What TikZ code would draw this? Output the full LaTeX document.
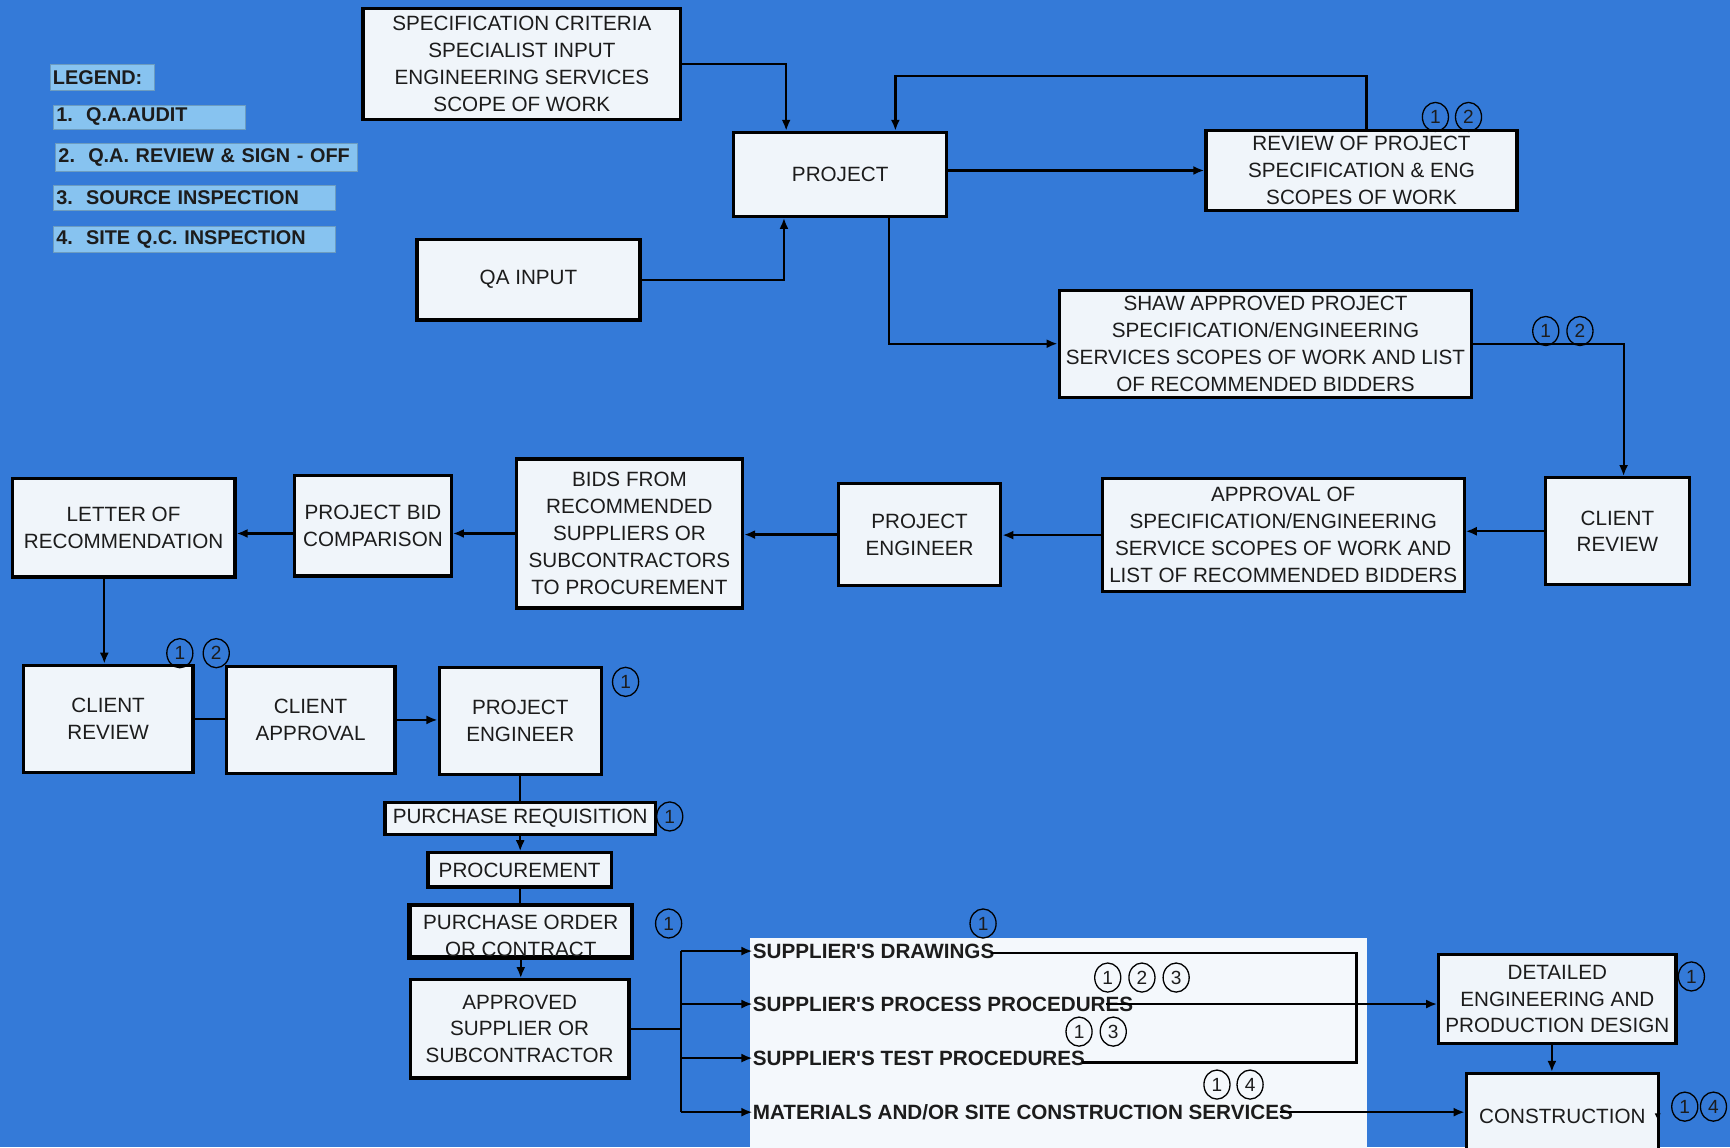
\documentclass[tikz,border=0pt]{standalone}
\usepackage{fontspec}
\setmainfont{Liberation Sans}
\usetikzlibrary{arrows.meta,calc,shapes.geometric}
\definecolor{bg}{RGB}{52,122,216}
\definecolor{boxfill}{RGB}{240,245,250}
\definecolor{lgfill}{RGB}{135,195,240}
\definecolor{panelfill}{RGB}{244,248,252}
\definecolor{txt}{RGB}{28,28,28}
\newcommand\mybox[6]{%
  \pgfmathsetmacro\mbw{(#4-#2)*0.55}%
  \pgfmathsetmacro\mbh{(#5-#3)*0.55}%
  \node[boxst,minimum width=\mbw pt,minimum height=\mbh pt] (#1) at ({(#2+#4)/2},{(#3+#5)/2}) {#6};}
\newcommand\mylg[6]{%
  \pgfmathsetmacro\mbw{(#4-#2)*0.55-3}%
  \pgfmathsetmacro\mbh{(#5-#3)*0.55}%
  \node[lgst,text width=\mbw pt,minimum height=\mbh pt,anchor=west] (#1) at (#2,{(#3+#5)/2}) {\mbox{#6}};}
\newcommand\mycn[4]{\node[cnst] (#1) at (#2,#3) {#4};}
\begin{document}
\begin{tikzpicture}[x=0.55pt,y=-0.55pt,
  boxst/.style={draw=black,line width=1.6pt,fill=boxfill,inner sep=0pt,align=center,text=txt,font=\fontsize{10.3}{13.4}\selectfont},
  txtst/.style={inner sep=0pt,align=center,text=txt,font=\fontsize{10.3}{13.4}\selectfont},
  lgst/.style={fill=lgfill,draw=lgfill!80!black,line width=0.3pt,inner xsep=1.5pt,inner ysep=0pt,align=left,text=txt,font=\bfseries\fontsize{9.9}{12}\selectfont},
  sst/.style={inner sep=0pt,text=txt,font=\bfseries\fontsize{10.3}{12}\selectfont},
  cnst/.style={draw=black,ellipse,line width=0.65pt,minimum width=13pt,minimum height=14.5pt,inner sep=0pt,text=txt,font=\fontsize{9.5}{9.5}\selectfont},
  ln/.style={draw=black,line width=1.1pt},
  arr/.style={draw=black,line width=1.1pt,-{Latex[length=5.5pt,width=4.5pt]}}]
\useasboundingbox (0,0) rectangle (1568,1040);
\fill[bg] (0,0) rectangle (1568,1040);
% legend
\mylg{lg0}{45}{58}{140}{82}{LEGEND:}
\mylg{lg1}{48}{95}{222}{117}{1.\ \ Q.A.AUDIT}
\mylg{lg2}{50}{130}{324}{155}{2.\ \ Q.A. REVIEW \& SIGN - OFF}
\mylg{lg3}{48}{168}{304}{191}{3.\ \ SOURCE INSPECTION}
\mylg{lg4}{48}{205}{304}{229}{4.\ \ SITE Q.C. INSPECTION}
% panel
\pgfmathsetmacro\mbw{(1239-680)*0.55}
\pgfmathsetmacro\mbh{(1045-850)*0.55}
\node[fill=panelfill,minimum width=\mbw pt,minimum height=\mbh pt,inner sep=0pt] (panel) at ({(680+1239)/2},{(850+1045)/2}) {};
% boxes
\mybox{spec}{329}{8}{617}{108}{SPECIFICATION CRITERIA\\SPECIALIST INPUT\\ENGINEERING SERVICES\\SCOPE OF WORK}
\mybox{proj}{665}{120}{858}{196}{PROJECT}
\mybox{rev}{1093}{118}{1375}{191}{REVIEW OF PROJECT\\SPECIFICATION \& ENG\\SCOPES OF WORK}
\mybox{qa}{378}{217}{580}{290}{QA INPUT}
\mybox{shaw}{960}{263}{1334}{360}{SHAW APPROVED PROJECT\\SPECIFICATION/ENGINEERING\\SERVICES SCOPES OF WORK AND LIST\\OF RECOMMENDED BIDDERS}
\mybox{crr}{1401}{433}{1531}{530}{CLIENT\\REVIEW}
\mybox{appr}{999}{434}{1327}{536}{APPROVAL OF\\SPECIFICATION/ENGINEERING\\SERVICE SCOPES OF WORK AND\\LIST OF RECOMMENDED BIDDERS}
\mybox{pea}{760}{438}{907}{531}{PROJECT\\ENGINEER}
\mybox{bids}{468}{416}{673}{551}{BIDS FROM\\RECOMMENDED\\SUPPLIERS OR\\SUBCONTRACTORS\\TO PROCUREMENT}
\mybox{bidc}{267}{431}{409}{522}{PROJECT BID\\COMPARISON}
\mybox{letr}{11}{434}{213}{523}{LETTER OF\\RECOMMENDATION}
\mybox{crl}{21}{603}{175}{700}{CLIENT\\REVIEW}
\mybox{cap}{205}{604}{358}{701}{CLIENT\\APPROVAL}
\mybox{peb}{398}{605}{545}{702}{PROJECT\\ENGINEER}
\mybox{pr}{349}{727}{594}{756}{PURCHASE REQUISITION}
\mybox{proc}{388}{773}{554}{804}{PROCUREMENT}
\mybox{po}{372}{821}{572}{867}{}
\begin{scope}
\clip (po.south west) rectangle (po.north east);
\node[txtst] (potxt) at (472,848) {PURCHASE ORDER\\OR CONTRACT};
\end{scope}
\draw[line width=1.6pt] (po.south west) rectangle (po.north east);
\mybox{aps}{372}{888}{570}{977}{APPROVED\\SUPPLIER OR\\SUBCONTRACTOR}
\mybox{det}{1304}{865}{1519}{946}{DETAILED\\ENGINEERING AND\\PRODUCTION DESIGN}
\mybox{con}{1329}{973}{1503}{1050}{CONSTRUCTION}
% supplier items
\node[sst,anchor=west] (s1) at (682,862) {SUPPLIER\textquotesingle S DRAWINGS};
\node[sst,anchor=west] (s2) at (682,910) {SUPPLIER\textquotesingle S PROCESS PROCEDURES};
\node[sst,anchor=west] (s3) at (682,959) {SUPPLIER\textquotesingle S TEST PROCEDURES};
\node[sst,anchor=west] (s4) at (682,1008) {MATERIALS AND/OR SITE CONSTRUCTION SERVICES};
% connectors
\draw[arr] (spec.east) -| ($(proj.north west)+(49,0)$);
\draw[arr] (qa.east) -| ($(proj.south west)+(47,0)$);
\draw[arr] (proj.east |- rev.west) -- (rev.west);
\draw[arr] ($(rev.north west)+(147,0)$) -- ++(0,-48) -| ($(proj.north west)+(148,0)$);
\draw[arr] ($(proj.south west)+(142,0)$) |- (shaw.west);
\draw[arr] (shaw.east) -| ($(crr.north west)+(72,0)$);
\draw[arr] (crr.west) -- (crr.west -| appr.east);
\draw[arr] (appr.west) -- (appr.west -| pea.east);
\draw[arr] (pea.west) -- (pea.west -| bids.east);
\draw[arr] (bids.west) -- (bids.west -| bidc.east);
\draw[arr] (bids.west -| bidc.west) -- (bids.west -| letr.east);
\draw[arr] ($(letr.south west)+(85,0)$) -- ($(crl.north west)+(75,0)$);
\draw[ln] (crl.east) -- (crl.east -| cap.west);
\draw[arr] (cap.east) -- (cap.east -| peb.west);
\draw[ln] (peb.south) -- (pr.north);
\draw[arr] (pr.south) -- (pr.south |- proc.north);
\draw[ln] (proc.south) -- (proc.south |- po.north);
\draw[arr] (po.south) -- (po.south |- aps.north);
\coordinate (tk) at ($(aps.east)+(46,0)$);
\draw[ln] (aps.east) -- (tk);
\draw[ln] (tk |- s1.west) -- (tk |- s4.west);
\draw[arr] (tk |- s1.west) -- (s1.west);
\draw[arr] (tk |- s2.west) -- (s2.west);
\draw[arr] (tk |- s3.west) -- (s3.west);
\draw[arr] (tk |- s4.west) -- (s4.west);
\coordinate (bk) at ($(panel.north east)+(-10,0)$);
\coordinate (s1e) at ($(s1.east)+(-3,2)$);
\coordinate (s3e) at ($(s3.east)+(-3,4)$);
\draw[ln] (s1e) -- (s1e -| bk) -- (s3e -| bk) -- (s3e);
\draw[arr] ($(s2.east)+(-25,0)$) -- (s2.east -| det.west);
\draw[arr] ($(s4.east)+(-12,0)$) -- (s4.east -| con.west);
\draw[arr] ($(det.south west)+(104,0)$) -- ($(con.north west)+(79,0)$);
\coordinate (ca1) at ($(con.north east)+(-2,32)$);
\coordinate (ca2) at ($(con.north east)+(-2,44)$);
\draw[line width=0.6pt,-{Latex[length=3.5pt,width=3pt]}] (ca1) -- (ca2);
% circled numbers
\mycn{c1}{1301}{106}{1}
\mycn{c2}{1331}{106}{2}
\mycn{c3}{1401}{300}{1}
\mycn{c4}{1432}{300}{2}
\mycn{c5}{163}{592}{1}
\mycn{c6}{196}{592}{2}
\mycn{c7}{567}{618}{1}
\mycn{c8}{607}{740}{1}
\mycn{c9}{606}{837}{1}
\mycn{c10}{891}{837}{1}
\mycn{c11}{1004}{886}{1}
\mycn{c12}{1035}{886}{2}
\mycn{c13}{1066}{886}{3}
\mycn{c14}{978}{935}{1}
\mycn{c15}{1009}{935}{3}
\mycn{c16}{1103}{983}{1}
\mycn{c17}{1133}{983}{4}
\mycn{c18}{1533}{885}{1}
\mycn{c19}{1527}{1003}{1}
\mycn{c20}{1553}{1003}{4}
\end{tikzpicture}
\end{document}
